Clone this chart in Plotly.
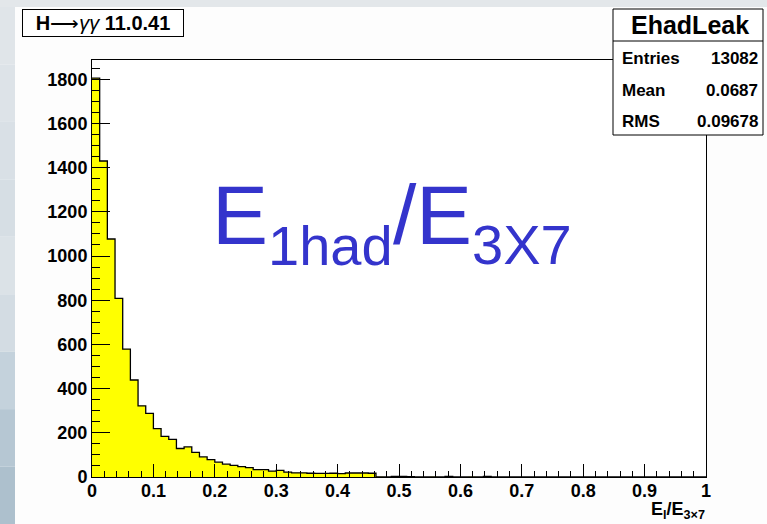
import plotly.graph_objects as go

# ---------------- data ----------------
bin_width = 0.0125
counts = [1805, 1430, 1077, 808, 579, 439, 322, 288, 219, 184,
          170, 129, 136, 111, 91, 79, 67, 58, 53, 47,
          42, 33, 33, 27, 30, 22, 19, 19, 17, 16,
          16, 17, 15, 18, 18, 18, 17, 1, 0, 3,
          3, 2, 0, 0, 1, 0, 3, 0, 0, 1,
          0, 3, 0, 0, 0, 0, 0, 0, 0, 0,
          0, 0, 0, 0, 0, 0, 0, 0, 0, 0,
          0, 0, 0, 0, 0, 0, 0, 0, 0, 0]
stats_name = "EhadLeak"
stats_labels = ["Entries", "Mean", "RMS"]
stats_values = ["13082", "0.0687", "0.09678"]
title_text = "<b>H</b>⟶<i>γγ</i> <b>11.0.41</b>"

# ---------------- geometry helpers (pixel -> paper) ----------------
W, H = 767, 524
L, R, T, B = 92, 706, 60, 477


def px(x):
    return (x - L) / (R - L)


def py(y):
    return (B - y) / (B - T)


edges = [i * bin_width for i in range(len(counts))]
xs = edges + [len(counts) * bin_width]
ys = counts + [counts[-1]]

fig = go.Figure()
fig.add_trace(go.Scatter(
    x=xs, y=ys, mode="lines", line=dict(shape="hv", color="black", width=1.3),
    fill="tozeroy", fillcolor="#FFFF00", hoverinfo="skip", showlegend=False))

tickfont = dict(family="Liberation Sans", size=18, color="black", weight="bold")

fig.update_xaxes(range=[0, 1], dtick=0.1, tick0=0, ticks="inside", ticklen=13,
                 tickwidth=1, tickcolor="black", showline=True, linecolor="black",
                 linewidth=1, mirror=True, showgrid=False, zeroline=False,
                 tickfont=tickfont, ticklabelstandoff=-3,
                 minor=dict(dtick=0.02, ticks="inside", ticklen=6, tickcolor="black",
                            tickwidth=1, showgrid=False))
fig.update_yaxes(range=[0, 1887], dtick=200, tick0=0, ticks="inside", ticklen=18,
                 tickwidth=1, tickcolor="black", showline=True, linecolor="black",
                 linewidth=1, mirror=True, showgrid=False, zeroline=False,
                 tickfont=tickfont,
                 minor=dict(dtick=50, ticks="inside", ticklen=8, tickcolor="black",
                            tickwidth=1, showgrid=False))

shapes = []
# background strips (slide background)
shapes.append(dict(type="rect", xref="paper", yref="paper", layer="below",
                   x0=px(0), x1=px(W), y0=py(0), y1=py(7),
                   fillcolor="#e3e7ea", line=dict(width=0)))
band_cols = ["#e0e5e9", "#dde3e8", "#d9e0e6", "#d6dee4", "#dbe2e7", "#d3dce3",
             "#c4d2dc", "#b6c7d3", "#adc0cd"]
nb = len(band_cols)
for i, c in enumerate(band_cols):
    y0 = 7 + (H - 7) * i / nb
    y1 = 7 + (H - 7) * (i + 1) / nb
    shapes.append(dict(type="rect", xref="paper", yref="paper", layer="below",
                       x0=px(0), x1=px(15), y0=py(y0), y1=py(y1),
                       fillcolor=c, line=dict(width=0)))
# stats box
shapes.append(dict(type="rect", xref="paper", yref="paper", layer="above",
                   x0=px(613), x1=px(763), y0=py(9), y1=py(135),
                   fillcolor="white", line=dict(color="black", width=1)))
shapes.append(dict(type="line", xref="paper", yref="paper", layer="above",
                   x0=px(613), x1=px(763), y0=py(41), y1=py(41),
                   line=dict(color="black", width=1)))

ann = []
ann.append(dict(text="<b>" + stats_name + "</b>", xref="paper", yref="paper",
                x=px(690), y=py(25), xanchor="center", yanchor="middle",
                showarrow=False, font=dict(family="Liberation Sans", size=25, color="black")))
row_y = [58, 90, 122]
for lab, val, yy in zip(stats_labels, stats_values, row_y):
    ann.append(dict(text="<b>" + lab + "</b>", xref="paper", yref="paper",
                    x=px(620), y=py(yy), xanchor="left", yanchor="middle",
                    showarrow=False, font=dict(family="Liberation Sans", size=17, color="black")))
    ann.append(dict(text="<b>" + val + "</b>", xref="paper", yref="paper",
                    x=px(760), y=py(yy), xanchor="right", yanchor="middle",
                    showarrow=False, font=dict(family="Liberation Sans", size=17, color="black")))

# title box
ann.append(dict(text=title_text, xref="paper", yref="paper", x=px(103), y=py(23),
                xanchor="center", yanchor="middle", showarrow=False,
                width=158, height=24, borderpad=1, bordercolor="black", borderwidth=1,
                bgcolor="white",
                font=dict(family="Liberation Sans", size=20, color="black")))

# axis title
ann.append(dict(text="<b>E<sub>l</sub>/E<sub>3×7</sub></b>", xref="paper", yref="paper",
                x=px(707), y=py(510), xanchor="right", yanchor="middle", showarrow=False,
                font=dict(family="Liberation Sans", size=18, color="black")))

# big blue label
blue = "#3434CC"
big, small = 84, 56
pieces = [("E", 210, 244, big), ("1had", 266, 265, small), ("/", 390.5, 244, big),
          ("E", 414, 244, big), ("3X7", 470, 264, small)]
for txt, x0, base, s in pieces:
    ann.append(dict(text=txt, xref="paper", yref="paper", x=px(x0), y=py(base - 0.35 * s),
                    xanchor="left", yanchor="middle", showarrow=False,
                    font=dict(family="Liberation Sans", size=s, color=blue)))

fig.update_layout(width=W, height=H, margin=dict(l=L, r=W - R, t=T, b=H - B),
                  paper_bgcolor="#fdfdfd", plot_bgcolor="white",
                  shapes=shapes, annotations=ann, showlegend=False)

fig.write_html("out.html", config={"displayModeBar": False},
               post_script="document.body.style.margin='0';"
                           "document.body.style.overflow='hidden';")
